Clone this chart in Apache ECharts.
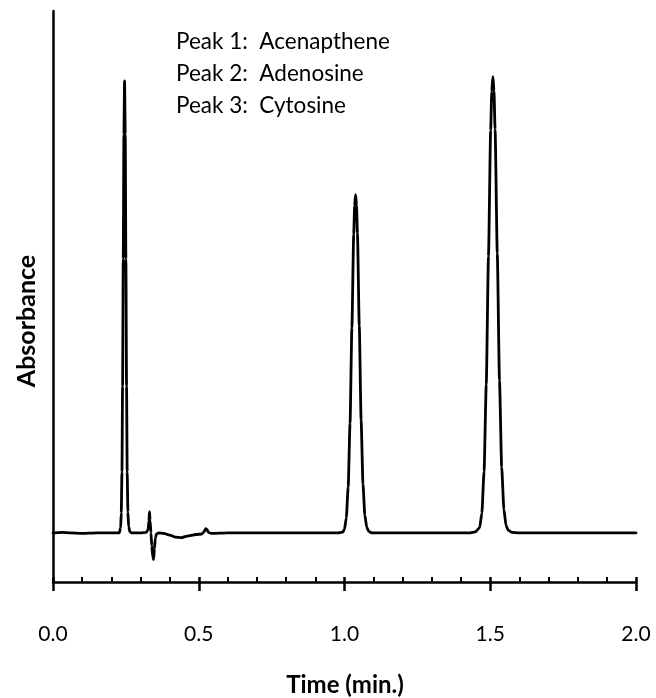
<!DOCTYPE html>
<html>
<head>
<meta charset="utf-8">
<title>Chromatogram</title>
<script src="https://cdn.jsdelivr.net/npm/echarts@6/dist/echarts.min.js"></script>
<style>
  html, body { margin: 0; padding: 0; background: #fff; }
  #chart { width: 656px; height: 698px; }
</style>
</head>
<body>
<div id="chart"></div>
<script>
// Detector trace, [time (min), absorbance] pairs, segment by segment
const leadIn = [
  [0.000, 0.000], [0.030, 0.001], [0.060, 0.000], [0.100, -0.001],
  [0.150, 0.000], [0.200, 0.000], [0.2275, 0.000]
];
const peak1 = [
  [0.2320, 0.010], [0.2342, 0.038], [0.2365, 0.117], [0.2387, 0.281],
  [0.2410, 0.525], [0.2432, 0.764], [0.2455, 0.866], [0.2478, 0.764],
  [0.2500, 0.525], [0.2523, 0.281], [0.2545, 0.117], [0.2570, 0.040],
  [0.2595, 0.012], [0.2640, 0.002], [0.2700, 0.000]
];
const injectionDisturbance = [
  [0.300, 0.000], [0.320, 0.001], [0.326, 0.006], [0.329, 0.022],
  [0.331, 0.041], [0.333, 0.024], [0.336, 0.000], [0.339, -0.025],
  [0.342, -0.045], [0.345, -0.051], [0.348, -0.030], [0.351, -0.010],
  [0.355, -0.002], [0.362, 0.000], [0.380, -0.001], [0.400, -0.004],
  [0.420, -0.008], [0.440, -0.009], [0.460, -0.006], [0.490, -0.003],
  [0.510, -0.002], [0.518, 0.002], [0.524, 0.008], [0.528, 0.007],
  [0.533, 0.001], [0.545, -0.001], [0.600, 0.000]
];
const midBaseline = [
  [0.700, 0.000], [0.800, 0.000], [0.900, 0.000], [0.975, 0.000]
];
const peak2 = [
  [0.9935, 0.0014], [1.0000, 0.007], [1.0062, 0.029], [1.0126, 0.088],
  [1.0190, 0.210], [1.0253, 0.393], [1.0316, 0.572], [1.0348, 0.627],
  [1.0380, 0.648], [1.0412, 0.628], [1.0444, 0.574], [1.0507, 0.397],
  [1.0570, 0.216], [1.0634, 0.094], [1.0698, 0.034], [1.0762, 0.011],
  [1.0830, 0.003], [1.0950, 0.000]
];
const gapBaseline = [
  [1.200, 0.000], [1.300, 0.000], [1.400, 0.000], [1.430, 0.000]
];
const peak3 = [
  [1.4486, 0.002], [1.4637, 0.010], [1.4712, 0.038], [1.4788, 0.118],
  [1.4863, 0.284], [1.4939, 0.530], [1.5014, 0.771], [1.5052, 0.846],
  [1.5090, 0.874], [1.5128, 0.847], [1.5166, 0.773], [1.5241, 0.536],
  [1.5317, 0.292], [1.5392, 0.126], [1.5468, 0.045], [1.5543, 0.014],
  [1.5620, 0.005], [1.5750, 0.001], [1.6000, 0.000]
];
const tailBaseline = [
  [1.700, 0.000], [1.800, 0.000], [1.900, 0.000], [2.000, 0.000]
];

const peakNotes = [
  'Peak 1:  Acenapthene',
  'Peak 2:  Adenosine',
  'Peak 3:  Cytosine'
];
const xTitle = 'Time (min.)';
const yTitle = 'Absorbance';

const trace = [].concat(leadIn, peak1, injectionDisturbance, midBaseline,
                        peak2, gapBaseline, peak3, tailBaseline);

const FONT = 'Lato, "Open Sans", sans-serif';
const gridBox = { left: 53, right: 20, top: 11, bottom: 116, outerBoundsMode: 'none' };

const chart = echarts.init(document.getElementById('chart'));
chart.setOption({
  animation: false,
  backgroundColor: '#fff',
  grid: [Object.assign({}, gridBox), Object.assign({}, gridBox)],
  xAxis: [
    {
      type: 'value', gridIndex: 0, min: 0, max: 2, interval: 0.5,
      axisLine: { show: true, onZero: false, lineStyle: { color: '#000', width: 2.5 } },
      axisTick: { show: true, inside: false, length: 9, lineStyle: { color: '#000', width: 2.5 } },
      minorTick: { show: false },
      splitLine: { show: false },
      axisLabel: {
        show: true, margin: 42, color: '#000', fontSize: 21, fontFamily: FONT,
        formatter: v => v.toFixed(1)
      }
    },
    {
      // inner tick marks (major + minor) pointing up into the plot
      type: 'value', gridIndex: 1, min: 0, max: 2, interval: 0.5,
      axisLine: { show: false, onZero: false },
      axisTick: { show: true, inside: true, length: 5, lineStyle: { color: '#000', width: 2.5 } },
      minorTick: { show: true, splitNumber: 5, length: 5, lineStyle: { color: '#000', width: 2 } },
      splitLine: { show: false },
      axisLabel: { show: false }
    }
  ],
  yAxis: [
    {
      type: 'value', gridIndex: 0, min: -0.094, max: 1.0,
      axisLine: { show: true, onZero: false, lineStyle: { color: '#000', width: 2.5 } },
      axisTick: { show: false },
      axisLabel: { show: false },
      splitLine: { show: false }
    },
    {
      type: 'value', gridIndex: 1, min: -0.094, max: 1.0, show: false
    }
  ],
  series: [{
    type: 'line',
    xAxisIndex: 0, yAxisIndex: 0,
    data: trace,
    showSymbol: false,
    smooth: 0.2,
    smoothMonotone: 'x',
    lineStyle: { color: '#000', width: 2.8, join: 'round', cap: 'round' }
  }],
  graphic: [
    ...peakNotes.map((t, i) => ({
      type: 'text', left: 176, top: 30 + i * 32,
      style: { text: t, fill: '#000', font: '22.5px ' + FONT }
    })),
    {
      type: 'text', x: 345, y: 685,
      style: { text: xTitle, fill: '#000', font: 'bold 24px ' + FONT, align: 'center', verticalAlign: 'middle' }
    },
    {
      type: 'text', x: 27, y: 321, rotation: Math.PI / 2,
      style: { text: yTitle, fill: '#000', font: 'bold 25px ' + FONT, align: 'center', verticalAlign: 'middle' }
    }
  ]
});
</script>
</body>
</html>
